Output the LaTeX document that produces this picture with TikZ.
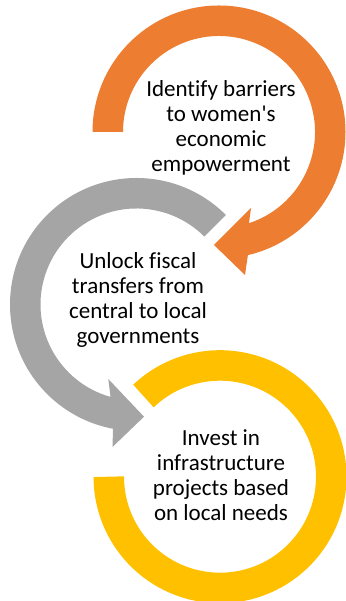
\documentclass[tikz,border=0pt]{standalone}
\usepackage{fontspec}
\setmainfont{Carlito}[Ligatures=NoCommon]
\usetikzlibrary{calc}

\definecolor{ringorange}{HTML}{ED7D31}
\definecolor{ringgray}{HTML}{A5A5A5}
\definecolor{ringyellow}{HTML}{FFC000}

\begin{document}
\begin{tikzpicture}[x=1pt, y=1pt]
			\tikzstyle{steptext} = [align=center, inner sep=0pt, font=\fontsize{23}{25}\selectfont, text=black]
			\tikzstyle{ringband} = [draw=none]

			\useasboundingbox (0,0) rectangle (345,601);

			\coordinate (o) at (219,469);
			\coordinate (g) at (136.5,296.5);
			\coordinate (y) at (220,124.3);

			\fill[ringband, ringorange] ($(o)+(180:126.5pt)$) arc[start angle=180, end angle=-76.8, radius=126.5pt]
				-- (245,326) -- (214,356) -- (251,393)
				-- ($(o)+(-71.8:96pt)$) arc[start angle=-71.8, end angle=180, radius=96pt] -- cycle;

			\fill[ringband, ringgray] ($(g)+(45:126.5pt)$) arc[start angle=45, end angle=259.3, radius=126.5pt]
				-- (112.5,154) -- (144,184.3) -- (108.3,222)
				-- ($(g)+(254.3:96pt)$) arc[start angle=254.3, end angle=45, radius=96pt] -- cycle;

			\draw[ringyellow, line width=30.5pt] ($(y)+(133.5:111.25pt)$) arc[start angle=133.5, end angle=-180, radius=111.25pt];

			\path
			node[steptext] (identify) at (221,472.7) {Identify barriers\\to women\textquotesingle s\\economic\\empowerment}
			node[steptext] (unlock) at (138,301.5) {Unlock fiscal\\transfers from\\central to local\\governments}
			node[steptext] (invest) at (221,125.6) {Invest in\\infrastructure\\projects based\\on local needs}
			;

\end{tikzpicture}
\end{document}
